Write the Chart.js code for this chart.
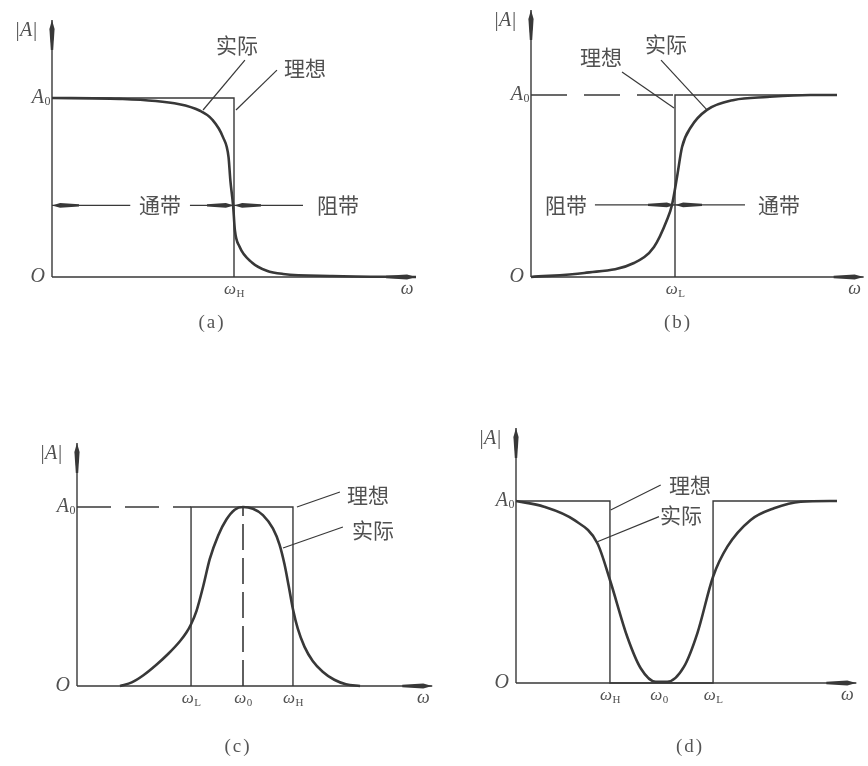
<!DOCTYPE html>
<html lang="zh-CN">
<head>
<meta charset="UTF-8">
<title>滤波器幅频特性</title>
<script src="https://cdn.jsdelivr.net/npm/chart.js"></script>
<style>
    body { margin: 0; background: #fff; }
    #figure { position: relative; width: 868px; height: 766px; }
    #figure canvas { position: absolute; }
    .caption {
        position: absolute;
        font-family: "Liberation Serif", serif;
        font-size: 19px;
        letter-spacing: 2px;
        color: #555;
        transform: translate(-50%, -50%);
        white-space: nowrap;
    }
</style>
</head>
<body>
<div id="figure">
    <canvas id="chartA" width="434" height="383" style="left:0;top:0"></canvas>
    <canvas id="chartB" width="434" height="383" style="left:434px;top:0"></canvas>
    <canvas id="chartC" width="434" height="383" style="left:0;top:383px"></canvas>
    <canvas id="chartD" width="434" height="383" style="left:434px;top:383px"></canvas>
    <div class="caption" style="left:212px;top:322px">(a)</div>
    <div class="caption" style="left:678px;top:322px">(b)</div>
    <div class="caption" style="left:238px;top:746px">(c)</div>
    <div class="caption" style="left:690px;top:746px">(d)</div>
</div>

<script>
// frequency in units of the cut-off / centre frequency, gain in units of A0

// (a) low-pass
const lowW       = [0, 0.37, 0.70, 0.81, 0.88, 0.94, 0.97, 0.98, 0.995, 1.005, 1.03, 1.10, 1.18, 1.27, 1.54, 2.0];
const lowActual  = [1.0, 0.995, 0.965, 0.93, 0.88, 0.78, 0.67, 0.54, 0.40, 0.26, 0.17, 0.08, 0.035, 0.017, 0.006, 0];
const lowIdealW  = [0, 1, 1];
const lowIdeal   = [1, 1, 0];

// (b) high-pass
const highW       = [0, 0.37, 0.715, 0.854, 0.944, 0.979, 1.014, 1.049, 1.111, 1.222, 1.41, 1.64, 1.94, 2.125];
const highActual  = [0, 0.022, 0.077, 0.165, 0.313, 0.396, 0.549, 0.714, 0.824, 0.918, 0.973, 0.989, 1.0, 1.0];
const highIdealW  = [1, 1, 2.125];
const highIdeal   = [0, 1, 1];

// (c) band-pass
const passW       = [0.259, 0.33, 0.40, 0.48, 0.55, 0.62, 0.66, 0.687, 0.72, 0.761, 0.80, 0.85, 0.90, 0.95, 1.0,
                     1.06, 1.12, 1.18, 1.22, 1.25, 1.275, 1.303, 1.33, 1.37, 1.42, 1.48, 1.55, 1.62, 1.705];
const passActual  = [0, 0.02, 0.06, 0.12, 0.18, 0.25, 0.30, 0.345, 0.42, 0.56, 0.71, 0.84, 0.93, 0.985, 1.0,
                     0.99, 0.955, 0.88, 0.79, 0.68, 0.56, 0.42, 0.32, 0.22, 0.14, 0.08, 0.035, 0.01, 0];
const passIdealW  = [0.687, 0.687, 1.301, 1.301];
const passIdeal   = [0, 1, 1, 0];

// (d) band-stop
const stopW       = [0, 0.196, 0.406, 0.569, 0.657, 0.778, 0.872, 0.977, 1.058, 1.175, 1.268, 1.378, 1.478, 1.641, 1.804, 1.991, 2.245];
const stopActual  = [1.0, 0.969, 0.896, 0.768, 0.566, 0.254, 0.081, 0.007, 0.007, 0.09, 0.273, 0.584, 0.749, 0.896, 0.96, 0.996, 1.0];
const stopIdealW  = [0, 0.657, 0.657, 1.378, 1.378, 2.245];
const stopIdeal   = [1, 1, 0, 0, 1, 1];

// tick labels on the ω axis (ω with subscript)
const lowTicks  = [{ at: 1, sub: 'H' }];
const highTicks = [{ at: 1, sub: 'L' }];
const passTicks = [{ at: 0.687, sub: 'L' }, { at: 1, sub: '0' }, { at: 1.301, sub: 'H' }];
const stopTicks = [{ at: 0.657, sub: 'H' }, { at: 1, sub: '0' }, { at: 1.378, sub: 'L' }];

const ink = '#383838';
const textInk = '#505050';
const serif = '"Liberation Serif", "DejaVu Serif", serif';
const cjk = '"Noto Sans CJK SC", sans-serif';

function xy(ws, as) {
    return ws.map((w, i) => ({ x: w, y: as[i] }));
}

function pt(chart, x, y) {
    return [chart.scales.x.getPixelForValue(x), chart.scales.y.getPixelForValue(y)];
}

// long slim arrowhead, tip at (tx, ty), pointing along (dx, dy)
function wedge(ctx, tx, ty, dx, dy, len, half) {
    const nx = -dy, ny = dx;
    ctx.beginPath();
    ctx.moveTo(tx, ty);
    ctx.lineTo(tx - dx * len * 0.3 + nx * half, ty - dy * len * 0.3 + ny * half);
    ctx.lineTo(tx - dx * len + nx * half * 0.45, ty - dy * len + ny * half * 0.45);
    ctx.lineTo(tx - dx * len - nx * half * 0.45, ty - dy * len - ny * half * 0.45);
    ctx.lineTo(tx - dx * len * 0.3 - nx * half, ty - dy * len * 0.3 - ny * half);
    ctx.closePath();
    ctx.fill();
}

function subText(ctx, main, sub, x, y, mainFont, subFont, align) {
    ctx.font = mainFont;
    const mw = ctx.measureText(main).width;
    ctx.font = subFont;
    const sw = ctx.measureText(sub).width;
    let left = x - (mw + sw) / 2;
    if (align === 'right') left = x - mw - sw;
    ctx.textAlign = 'left';
    ctx.textBaseline = 'middle';
    ctx.font = mainFont;
    ctx.fillText(main, left, y);
    ctx.font = subFont;
    ctx.fillText(sub, left + mw + 0.5, y + 4);
}

const notesPlugin = {
    id: 'filterNotes',
    beforeDatasetsDraw(chart, args, opts) {
        const ctx = chart.ctx;
        const xs = chart.scales.x, ys = chart.scales.y;
        const [ox, oy] = pt(chart, 0, 0);
        const ex = xs.getPixelForValue(xs.max);
        const ty = ys.getPixelForValue(ys.max);
        ctx.save();
        ctx.strokeStyle = ink;
        ctx.fillStyle = ink;
        ctx.lineWidth = 1.4;
        ctx.beginPath();
        ctx.moveTo(ox, oy);
        ctx.lineTo(ex, oy);
        ctx.moveTo(ox, oy);
        ctx.lineTo(ox, ty);
        ctx.stroke();
        wedge(ctx, ex, oy, 1, 0, 30, 2.6);
        wedge(ctx, ox, ty, 0, -1, 30, 2.6);
        ctx.restore();
    },
    afterDatasetsDraw(chart, args, opts) {
        const ctx = chart.ctx;
        const xs = chart.scales.x, ys = chart.scales.y;
        const [ox, oy] = pt(chart, 0, 0);
        const ex = xs.getPixelForValue(xs.max);
        const ty = ys.getPixelForValue(ys.max);
        const a0 = ys.getPixelForValue(1);
        ctx.save();

        // leader lines and pass/stop band arrows
        ctx.strokeStyle = ink;
        ctx.fillStyle = ink;
        ctx.lineWidth = 1.2;
        (opts.leaders || []).concat(opts.bandLines || []).forEach(([p, q]) => {
            const [x1, y1] = pt(chart, p[0], p[1]);
            const [x2, y2] = pt(chart, q[0], q[1]);
            ctx.beginPath();
            ctx.moveTo(x1, y1);
            ctx.lineTo(x2, y2);
            ctx.stroke();
        });
        (opts.bandArrows || []).forEach(a => {
            const [x1, y1] = pt(chart, a.tip[0], a.tip[1]);
            wedge(ctx, x1, y1, a.dir, 0, 27, 2.4);
        });

        // chinese labels
        ctx.fillStyle = textInk;
        ctx.font = '21px ' + cjk;
        ctx.textAlign = 'center';
        ctx.textBaseline = 'middle';
        (opts.labels || []).forEach(l => {
            const [x1, y1] = pt(chart, l.at[0], l.at[1]);
            ctx.fillText(l.text, x1, y1);
        });

        // axis names
        ctx.font = 'italic 20px ' + serif;
        ctx.fillText('|A|', ox - 26, ty + 11);
        ctx.textAlign = 'right';
        ctx.fillText('O', ox - 7, oy);
        subText(ctx, 'A', '0', ox - 2, a0, 'italic 20px ' + serif, '12px ' + serif, 'right');
        ctx.textAlign = 'center';
        ctx.font = 'italic 18px ' + serif;
        ctx.fillText('ω', ex - 9, oy + 12);
        (opts.ticks || []).forEach(t => {
            subText(ctx, 'ω', t.sub, xs.getPixelForValue(t.at), oy + 13, 'italic 17px ' + serif, '11px ' + serif);
        });
        ctx.restore();
    }
};

function curve(ws, as) {
    return {
        data: xy(ws, as),
        borderColor: ink,
        borderWidth: 2.6,
        cubicInterpolationMode: 'monotone',
        pointRadius: 0,
        clip: false
    };
}

function ideal(ws, as, dash) {
    return {
        data: xy(ws, as),
        borderColor: ink,
        borderWidth: dash ? 1.6 : 1.4,
        borderDash: dash || [],
        tension: 0,
        pointRadius: 0,
        clip: false
    };
}

// frame: origin (ox, oy) inside the canvas, pixels per unit on each axis
function makeChart(id, frame, datasets, notes) {
    const canvas = document.getElementById(id);
    const W = canvas.width, H = canvas.height;
    return new Chart(canvas, {
        type: 'line',
        data: { datasets: datasets },
        options: {
            responsive: false,
            animation: false,
            devicePixelRatio: 1,
            layout: {
                padding: {
                    left: frame.ox,
                    right: W - (frame.ox + frame.xMax * frame.ux),
                    top: frame.oy - frame.yMax * frame.uy,
                    bottom: H - frame.oy
                }
            },
            scales: {
                x: { type: 'linear', display: false, min: 0, max: frame.xMax },
                y: { type: 'linear', display: false, min: 0, max: frame.yMax }
            },
            plugins: {
                legend: { display: false },
                tooltip: { enabled: false },
                filterNotes: notes
            }
        },
        plugins: [notesPlugin]
    });
}

makeChart('chartA',
    { ox: 52, oy: 277, ux: 182, uy: 179, xMax: 2.0, yMax: 1.436 },
    [curve(lowW, lowActual), ideal(lowIdealW, lowIdeal)],
    {
        ticks: lowTicks,
        leaders: [[[1.06, 1.212], [0.83, 0.933]], [[1.236, 1.156], [1.011, 0.933]]],
        labels: [{ text: '实际', at: [1.016, 1.296] }, { text: '理想', at: [1.39, 1.168] }, { text: '通带', at: [0.593, 0.40] }, { text: '阻带', at: [1.571, 0.40] }],
        bandLines: [[[0, 0.40], [0.43, 0.40]], [[0.758, 0.40], [1.379, 0.40]]],
        bandArrows: [{ tip: [0, 0.40], dir: -1 }, { tip: [1, 0.40], dir: 1 }, { tip: [1, 0.40], dir: -1 }]
    });

makeChart('chartB',
    { ox: 97, oy: 277, ux: 144, uy: 182, xMax: 2.31, yMax: 1.467 },
    [curve(highW, highActual), ideal(highIdealW, highIdeal), ideal([0, 1], [1, 1], [36, 17])],
    {
        ticks: highTicks,
        leaders: [[[0.632, 1.126], [0.993, 0.929]], [[0.903, 1.192], [1.222, 0.918]]],
        labels: [{ text: '理想', at: [0.486, 1.209] }, { text: '实际', at: [0.9375, 1.28] }, { text: '阻带', at: [0.243, 0.396] }, { text: '通带', at: [1.722, 0.396] }],
        bandLines: [[[0.444, 0.396], [1.486, 0.396]]],
        bandArrows: [{ tip: [1, 0.396], dir: 1 }, { tip: [1, 0.396], dir: -1 }]
    });

makeChart('chartC',
    { ox: 77, oy: 303, ux: 166, uy: 179, xMax: 2.14, yMax: 1.358 },
    [curve(passW, passActual), ideal(passIdealW, passIdeal), ideal([0, 0.687], [1, 1], [34, 14]), ideal([1, 1], [0, 1], [26, 8])],
    {
        ticks: passTicks,
        leaders: [[[1.325, 1.0], [1.584, 1.084]], [[1.241, 0.771], [1.602, 0.888]]],
        labels: [{ text: '理想', at: [1.753, 1.067] }, { text: '实际', at: [1.783, 0.872] }]
    });

makeChart('chartD',
    { ox: 82, oy: 300, ux: 143, uy: 182, xMax: 2.38, yMax: 1.401 },
    [curve(stopW, stopActual), ideal(stopIdealW, stopIdeal)],
    {
        ticks: stopTicks,
        leaders: [[[0.662, 0.951], [1.012, 1.088]], [[0.569, 0.776], [1.0, 0.914]]],
        labels: [{ text: '理想', at: [1.217, 1.088] }, { text: '实际', at: [1.154, 0.923] }]
    });
</script>
</body>
</html>
